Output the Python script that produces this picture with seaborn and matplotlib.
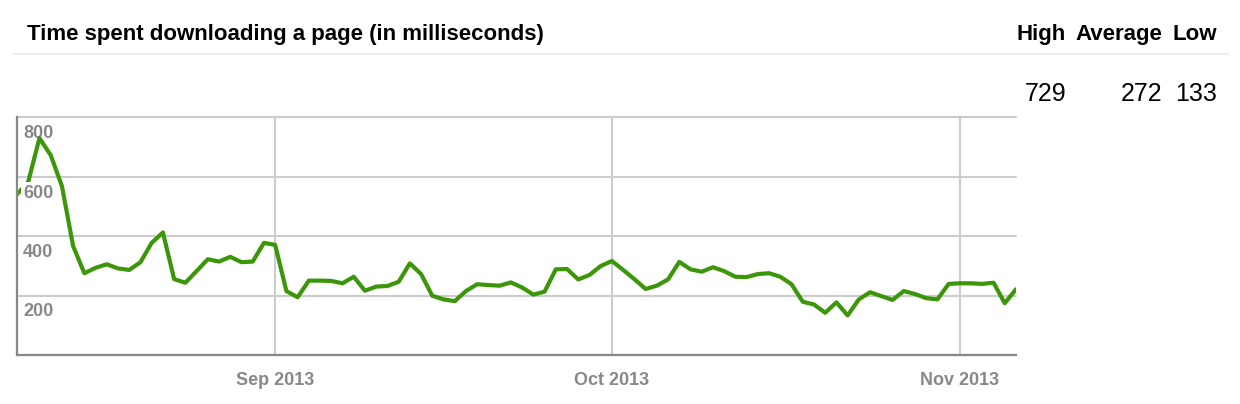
import numpy as np
import pandas as pd
import matplotlib
matplotlib.use("Agg")
import matplotlib.pyplot as plt
import matplotlib.dates as mdates
import matplotlib.transforms as mtransforms
import seaborn as sns

# ---------------- data ----------------
start_date = "2013-08-09"
load_ms = [
    540, 582, 729, 672, 568, 366, 275, 293, 305, 291, 286, 312, 377, 412,
    255, 243, 282, 322, 314, 330, 312, 314, 377,            # Aug 9 - Aug 31
    370, 215, 194, 250, 250, 249, 241, 263, 216, 230, 232, 246, 308, 272,
    199, 187, 181, 215, 238, 235, 233, 244, 227, 203, 213, 288, 289, 254,
    269, 299,                                               # Sep
    316, 286, 255, 222, 233, 254, 313, 288, 280, 295, 282, 263, 262, 272,
    275, 263, 238, 179, 170, 142, 177, 133, 187, 211, 198, 185, 215, 205,
    191, 187, 239,                                          # Oct
    241, 241, 239, 243, 174, 221,                           # Nov 1 - Nov 6
]
y_ticks = [200, 400, 600, 800]
month_ticks = ["2013-09-01", "2013-10-01", "2013-11-01"]
month_labels = ["Sep 2013", "Oct 2013", "Nov 2013"]
title = "Time spent downloading a page (in milliseconds)"
stat_names = ["High", "Average", "Low"]
stat_values = ["729", "272", "133"]

dates = pd.date_range(start_date, periods=len(load_ms), freq="D")
df = pd.DataFrame({"date": dates, "ms": load_ms})

# ---------------- style ----------------
sns.set_style("white")
plt.rcParams["font.family"] = ["Liberation Sans", "DejaVu Sans"]

W, H = 1240, 404
fig = plt.figure(figsize=(W / 100, H / 100), dpi=100)

def fx(px):
    return px / W

def fy(py):
    return 1 - py / H

ax = fig.add_axes([fx(17), fy(355), fx(1016) - fx(17), fy(117) - fy(355)])

sns.lineplot(data=df, x="date", y="ms", ax=ax, color="#3c960a",
             linewidth=3.0, zorder=3)

ax.set_xlim(dates[0], dates[-1])
ax.set_ylim(0, 800)
ax.set_yticks([0] + y_ticks)
ax.set_yticklabels([])
ax.set_xticks(pd.to_datetime(month_ticks))
ax.set_xticklabels(month_labels)
ax.tick_params(axis="both", length=0)
ax.tick_params(axis="x", pad=12, labelsize=13, labelcolor="#888888")
for lab in ax.get_xticklabels():
    lab.set_fontweight("bold")

ax.grid(True, color="#cccccc", linewidth=1.5)
ax.set_axisbelow(True)
for gl in ax.get_ygridlines() + ax.get_xgridlines():
    gl.set_clip_on(False)

for s in ["top", "right"]:
    ax.spines[s].set_visible(False)
for s in ["left", "bottom"]:
    ax.spines[s].set_color("#888888")
    ax.spines[s].set_linewidth(1.6)
    ax.spines[s].set_zorder(4)

ax.set_xlabel("")
ax.set_ylabel("")

# y labels placed inside the plot, just under each gridline
trans = mtransforms.blended_transform_factory(ax.transAxes, ax.transData)
offset = mtransforms.ScaledTranslation(6 / 100, -8 / 100, fig.dpi_scale_trans)
for v in y_ticks:
    z = 2.5 if v == max(y_ticks) else 5
    ax.text(0, v, str(v), transform=trans + offset, ha="left", va="top",
            fontsize=13, fontweight="bold", color="#888888", zorder=z,
            bbox=dict(facecolor="white", edgecolor="none", pad=1.5))

# ---------------- header ----------------
fig.text(fx(27), fy(40), title, ha="left", va="baseline", fontsize=16,
         fontweight="bold", color="black")
header_right = [1066, 1162, 1217]
for name, val, xr in zip(stat_names, stat_values, header_right):
    fig.text(fx(xr), fy(40), name, ha="right", va="baseline", fontsize=16,
             fontweight="bold", color="black")
    fig.text(fx(xr), fy(101), val, ha="right", va="baseline", fontsize=18,
             color="black")

fig.add_artist(plt.Line2D([fx(13), fx(1228)], [fy(54), fy(54)],
                          color="#eeeeee", linewidth=1.5))

fig.savefig("out.png", dpi=100, facecolor="white")
